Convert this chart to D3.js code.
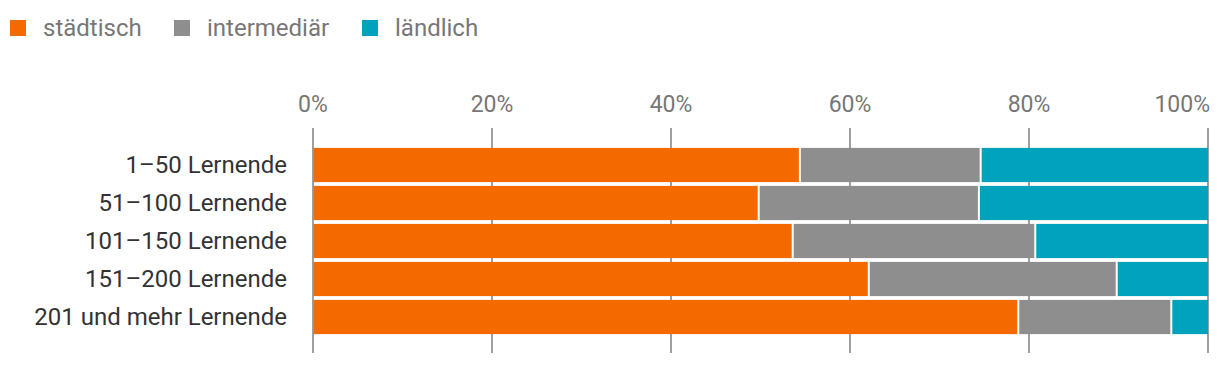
<!DOCTYPE html>
<html><head><meta charset="utf-8">
<script src="https://cdn.jsdelivr.net/npm/d3@7"></script>
<style>body{margin:0;background:#fff;}svg{display:block;font-family:Roboto,"Noto Sans",sans-serif;}</style>
</head><body><svg id="c" width="1220" height="366"></svg>
<script>
const categories = ["1–50 Lernende","51–100 Lernende","101–150 Lernende","151–200 Lernende","201 und mehr Lernende"];
const seriesNames = ["städtisch","intermediär","ländlich"];
const staedtisch = [54.4, 49.8, 53.6, 62.1, 78.8];
const intermediaer = [20.2, 24.6, 27.1, 27.7, 17.1];
const laendlich = [25.4, 25.6, 19.3, 10.2, 4.1];
const tickValues = [0,20,40,60,80,100];
const colors = ["#F46A00","#8E8E8E","#00A3BB"];

const svg = d3.select("#c");
const x = d3.scaleLinear().domain([0,100]).range([313,1208]);
const y = d3.scaleBand().domain(categories).range([146,336]).paddingInner(0.1).paddingOuter(0.05);

// gridlines
svg.append("g").selectAll("line").data(tickValues).join("line")
  .attr("x1",d=>x(d)).attr("x2",d=>x(d)).attr("y1",128).attr("y2",353)
  .attr("stroke","#777").attr("stroke-width",1.4);
svg.append("g").selectAll("text").data(tickValues).join("text")
  .attr("x",d=>x(d)).attr("y",112).attr("text-anchor",d=>d===100?"end":"middle")
  .attr("dx",d=>d===100?2:0)
  .attr("font-size",23).attr("fill","#777").text(d=>d+"%");

// bars
const data = categories.map((c,i)=>({c, v:[staedtisch[i], intermediaer[i], laendlich[i]]}));
data.forEach(row=>{
  const stack = d3.cumsum(row.v);
  row.v.forEach((v,j)=>{
    const s = j===0?0:stack[j-1];
    const e = j===2?100:stack[j];
    const x0 = x(s) + (j>0?1:0.5);
    const x1 = x(e) - (j<2?1:0);
    svg.append("rect").attr("x",x0).attr("y",y(row.c)).attr("width",x1-x0).attr("height",y.bandwidth())
      .attr("fill",colors[j]);
  });
});

// category labels
svg.append("g").selectAll("text").data(categories).join("text")
  .attr("x",287).attr("y",d=>y(d)+y.bandwidth()/2).attr("dy","0.35em")
  .attr("text-anchor","end").attr("font-size",24).attr("fill","#333").text(d=>d);

// legend
const legX = [10,174,362];
const lg = svg.append("g").selectAll("g").data(seriesNames).join("g")
  .attr("transform",(d,i)=>`translate(${legX[i]},20)`);
lg.append("rect").attr("width",16).attr("height",16).attr("fill",(d,i)=>colors[i]);
lg.append("text").attr("x",33).attr("y",8).attr("dy","0.35em").attr("font-size",24).attr("fill","#777").text(d=>d);
</script></body></html>
